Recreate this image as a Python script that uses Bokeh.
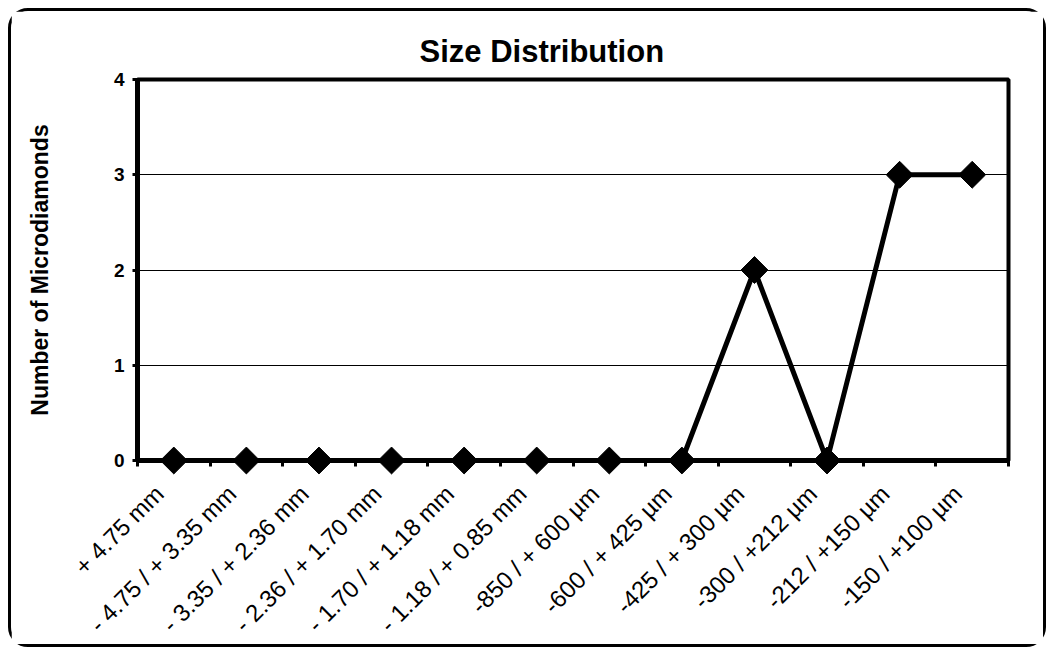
import math
from bokeh.plotting import figure
from bokeh.models import FixedTicker, Range1d
from bokeh.embed import file_html
from bokeh.resources import INLINE

categories = ["+ 4.75 mm", "- 4.75 / + 3.35 mm", "- 3.35 / + 2.36 mm", "- 2.36 / + 1.70 mm",
              "- 1.70 / + 1.18 mm", "- 1.18 / + 0.85 mm", "-850 / + 600 µm", "-600 / + 425 µm",
              "-425 / + 300 µm", "-300 / +212 µm", "-212 / +150 µm", "-150 / +100 µm"]
counts = [0, 0, 0, 0, 0, 0, 0, 0, 2, 0, 3, 3]
y_ticks = [0, 1, 2, 3, 4]

n = len(categories)
xs = [i + 0.5 for i in range(n)]
label_pos = [x - 0.2 for x in xs]

FONT = "Liberation Sans"

p = figure(width=1038, height=639, output_backend="svg", toolbar_location=None,
           x_range=Range1d(0, n), y_range=Range1d(0, 4),
           min_border_left=126, min_border_right=41, min_border_top=68, min_border_bottom=190,
           title="Size Distribution")
p.styles = {"border": "3px solid black", "border-radius": "20px",
            "margin-left": "8px", "margin-top": "8px", "box-sizing": "border-box"}

p.title.align = "left"
p.title.offset = 282
p.title.text_font = FONT
p.title.text_font_size = "31px"
p.title.text_font_style = "bold"
p.title.text_color = "black"
p.title.standoff = 22

p.outline_line_color = "black"
p.outline_line_width = 4

p.xgrid.grid_line_color = None
p.ygrid.grid_line_color = "black"
p.ygrid.grid_line_width = 1
p.ygrid.ticker = FixedTicker(ticks=y_ticks)

xa = p.xaxis[0]
xa.ticker = FixedTicker(ticks=label_pos, minor_ticks=list(range(n + 1)))
xa.major_label_overrides = {x: c for x, c in zip(label_pos, categories)}
xa.major_label_orientation = math.pi / 4
xa.major_label_text_font = FONT
xa.major_label_text_font_size = "24px"
xa.major_label_text_color = "black"
xa.major_tick_line_color = None
xa.minor_tick_line_color = "black"
xa.minor_tick_line_width = 3
xa.minor_tick_out = 6
xa.minor_tick_in = 0
xa.axis_line_width = 5
xa.axis_line_color = "black"
xa.major_label_standoff = 23

ya = p.yaxis[0]
ya.ticker = FixedTicker(ticks=y_ticks)
ya.axis_label = "Number of Microdiamonds"
ya.axis_label_text_font = FONT
ya.axis_label_text_font_size = "23px"
ya.axis_label_text_font_style = "bold"
ya.axis_label_text_color = "black"
ya.axis_label_standoff = 58
ya.major_label_text_font = FONT
ya.major_label_text_font_size = "19px"
ya.major_label_text_font_style = "bold"
ya.major_label_text_color = "black"
ya.major_label_standoff = 8
ya.major_tick_line_color = "black"
ya.major_tick_line_width = 3
ya.major_tick_out = 5
ya.major_tick_in = 0
ya.minor_tick_line_color = None
ya.axis_line_width = 5
ya.axis_line_color = "black"

p.line(xs, counts, line_color="black", line_width=5, level="overlay")
p.scatter(xs, counts, marker="square", angle=math.pi / 4, size=19,
          fill_color="black", line_color="black", level="overlay")

open("out.html", "w").write(file_html(p, INLINE))
